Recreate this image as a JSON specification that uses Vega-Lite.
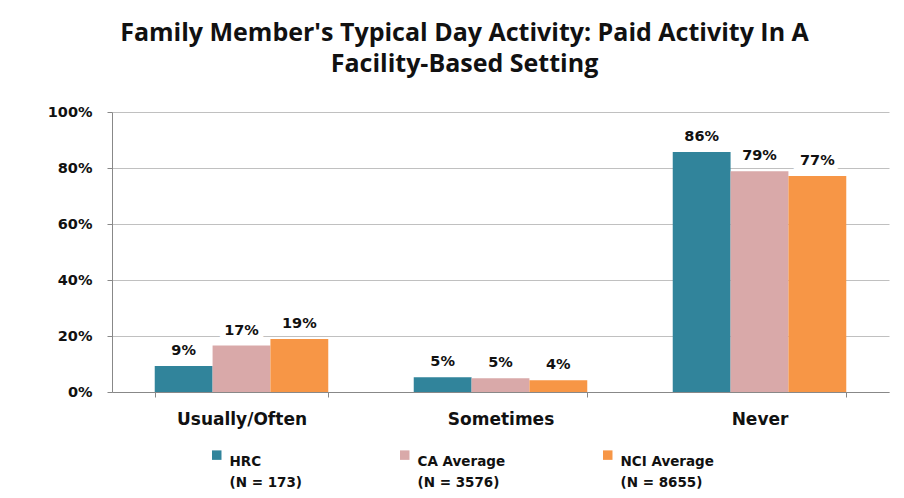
{
  "$schema": "https://vega.github.io/schema/vega-lite/v6.json",
  "width": 777,
  "height": 280,
  "autosize": {"type": "none"},
  "padding": {"left": 112, "top": 112, "right": 15, "bottom": 106},
  "background": "white",
  "title": {
    "text": ["Family Member's Typical Day Activity: Paid Activity In A", "Facility-Based Setting"],
    "font": "Open Sans",
    "fontSize": 25,
    "fontWeight": "bold",
    "lineHeight": 31,
    "color": "#111111",
    "anchor": "middle",
    "frame": "group",
    "dx": -36,
    "offset": 27
  },
  "data": {
    "values": [
      {"response": "Usually/Often", "group": "HRC|(N = 173)", "value": 0.093},
      {"response": "Usually/Often", "group": "CA Average|(N = 3576)", "value": 0.166},
      {"response": "Usually/Often", "group": "NCI Average|(N = 8655)", "value": 0.189},
      {"response": "Sometimes", "group": "HRC|(N = 173)", "value": 0.053},
      {"response": "Sometimes", "group": "CA Average|(N = 3576)", "value": 0.049},
      {"response": "Sometimes", "group": "NCI Average|(N = 8655)", "value": 0.042},
      {"response": "Never", "group": "HRC|(N = 173)", "value": 0.857},
      {"response": "Never", "group": "CA Average|(N = 3576)", "value": 0.788},
      {"response": "Never", "group": "NCI Average|(N = 8655)", "value": 0.771}
    ]
  },
  "encoding": {
    "x": {
      "field": "response",
      "type": "nominal",
      "sort": ["Usually/Often", "Sometimes", "Never"],
      "scale": {"paddingInner": 0.33, "paddingOuter": 0.165},
      "axis": {
        "title": null,
        "labelAngle": 0,
        "labelFont": "DejaVu Sans",
        "labelFontSize": 17,
        "labelFontWeight": "bold",
        "labelColor": "#111111",
        "labelPadding": 14,
        "tickBand": "extent",
        "tickSize": 5,
        "tickColor": "#888888",
        "domainColor": "#888888"
      }
    },
    "xOffset": {
      "field": "group",
      "type": "nominal",
      "sort": ["HRC|(N = 173)", "CA Average|(N = 3576)", "NCI Average|(N = 8655)"],
      "scale": {"paddingInner": 0, "paddingOuter": 0}
    },
    "y": {
      "field": "value",
      "type": "quantitative",
      "scale": {"domain": [0, 1]},
      "axis": {
        "title": null,
        "format": ".0%",
        "values": [0, 0.2, 0.4, 0.6, 0.8, 1],
        "labelFont": "DejaVu Sans",
        "labelFontSize": 14.5,
        "labelFontWeight": "bold",
        "labelColor": "#111111",
        "labelPadding": 15,
        "tickSize": 5,
        "tickColor": "#888888",
        "domainColor": "#888888",
        "gridColor": "#c0c0c0",
        "gridWidth": 1
      }
    }
  },
  "layer": [
    {
      "mark": {"type": "bar"},
      "encoding": {
        "color": {
          "field": "group",
          "type": "nominal",
          "sort": ["HRC|(N = 173)", "CA Average|(N = 3576)", "NCI Average|(N = 8655)"],
          "scale": {
            "domain": ["HRC|(N = 173)", "CA Average|(N = 3576)", "NCI Average|(N = 8655)"],
            "range": ["#31849B", "#D9A9A9", "#F79646"]
          },
          "legend": {
            "title": null,
            "orient": "none",
            "legendX": 98,
            "legendY": 336,
            "direction": "horizontal",
            "columns": 3,
            "labelExpr": "split(datum.label, '|')",
            "labelFont": "DejaVu Sans",
            "labelFontSize": 13.5,
            "labelFontWeight": "bold",
            "labelColor": "#111111",
            "labelBaseline": "top",
            "labelOffset": 6,
            "symbolType": "square",
            "symbolSize": 90,
            "symbolStrokeWidth": 0,
            "columnPadding": 95,
            "labelLimit": 300
          }
        }
      }
    },
    {
      "mark": {
        "type": "text",
        "baseline": "bottom",
        "dy": -8,
        "font": "DejaVu Sans",
        "fontSize": 14.5,
        "fontWeight": "bold",
        "color": "white",
        "stroke": "white",
        "strokeWidth": 12
      },
      "encoding": {
        "text": {"field": "value", "type": "quantitative", "format": ".0%"}
      }
    },
    {
      "mark": {
        "type": "text",
        "baseline": "bottom",
        "dy": -8,
        "font": "DejaVu Sans",
        "fontSize": 14.5,
        "fontWeight": "bold",
        "color": "#111111"
      },
      "encoding": {
        "text": {"field": "value", "type": "quantitative", "format": ".0%"}
      }
    }
  ],
  "config": {
    "view": {"stroke": null},
    "style": {"guide-label": {"lineHeight": 21}}
  }
}
